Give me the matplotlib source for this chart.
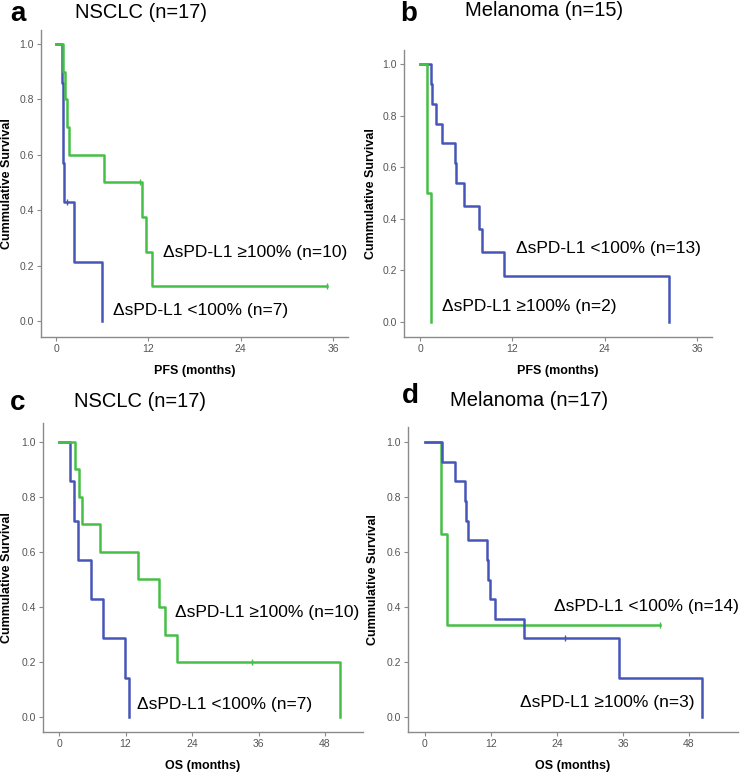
import matplotlib
matplotlib.use('Agg')
import matplotlib.pyplot as plt

plt.rcParams['font.family'] = ['Liberation Sans', 'DejaVu Sans']

BLUE = '#4656b8'
GREEN = '#46bf46'
AXIS_GRAY = '#8a8a8a'

# ---- data: Kaplan-Meier step points (time in months, survival) ----
# panel a: NSCLC PFS
a_hi_t = [0, 0.95, 1.15, 1.4, 1.7, 6.3, 11.2, 11.7, 12.5, 35.2]
a_hi_s = [1.0, 0.9, 0.8, 0.7, 0.6, 0.5, 0.375, 0.25, 0.125, 0.125]
a_hi_cens_t = [10.9, 35.2]
a_hi_cens_s = [0.5, 0.125]
a_lo_t = [0, 0.75, 0.85, 0.9, 1.1, 2.3, 6.0]
a_lo_s = [1.0, 0.857, 0.714, 0.571, 0.429, 0.214, 0.0]
a_lo_cens_t = [1.4]
a_lo_cens_s = [0.429]

# panel b: melanoma PFS
b_hi_t = [0, 0.95, 1.43]
b_hi_s = [1.0, 0.5, 0.0]
b_lo_t = [0, 1.43, 1.5, 2.1, 2.8, 4.6, 4.65, 5.7, 7.66, 8.05, 10.9, 32.3]
b_lo_s = [1.0, 0.923, 0.846, 0.769, 0.692, 0.615, 0.538, 0.45, 0.36, 0.27, 0.18, 0.0]

# panel c: NSCLC OS
c_hi_t = [0, 2.8, 3.55, 4.15, 7.35, 14.3, 18.0, 19.2, 21.3, 50.7]
c_hi_s = [1.0, 0.9, 0.8, 0.7, 0.6, 0.5, 0.4, 0.3, 0.2, 0.0]
c_hi_cens_t = [34.9]
c_hi_cens_s = [0.2]
c_lo_t = [0, 2.0, 2.65, 3.5, 5.7, 7.95, 11.9, 12.65]
c_lo_s = [1.0, 0.857, 0.714, 0.571, 0.429, 0.286, 0.143, 0.0]

# panel d: melanoma OS
d_hi_t = [0, 2.85, 4.05, 42.8]
d_hi_s = [1.0, 0.667, 0.333, 0.333]
d_hi_cens_t = [42.8]
d_hi_cens_s = [0.333]
d_lo_t = [0, 3.15, 5.5, 7.26, 7.45, 7.75, 11.26, 11.5, 11.9, 12.8, 18.0, 35.2, 50.4]
d_lo_s = [1.0, 0.929, 0.857, 0.786, 0.714, 0.643, 0.571, 0.5, 0.429, 0.357, 0.286, 0.143, 0.0]
d_lo_cens_t = [25.5]
d_lo_cens_s = [0.286]

W, H = 749, 777
fig = plt.figure(figsize=(W / 100, H / 100), dpi=100)


def px_axes(left, top, right, bottom):
    return fig.add_axes([left / W, 1 - bottom / H, (right - left) / W, (bottom - top) / H])


def style(ax, xlim, ylim, xticks, xlabel, ylab_x):
    ax.set_xlim(*xlim)
    ax.set_ylim(*ylim)
    ax.set_xticks(xticks)
    ax.set_yticks([0.0, 0.2, 0.4, 0.6, 0.8, 1.0])
    ax.set_yticklabels(['0.0', '0.2', '0.4', '0.6', '0.8', '1.0'])
    for s in ['top', 'right']:
        ax.spines[s].set_visible(False)
    for s in ['left', 'bottom']:
        ax.spines[s].set_color(AXIS_GRAY)
        ax.spines[s].set_linewidth(1.0)
    ax.tick_params(direction='out', length=3, width=0.8, color=AXIS_GRAY,
                   labelsize=7.5, labelcolor='#555555', pad=2)
    ax.set_xlabel(xlabel, fontsize=9, fontweight='bold', labelpad=8)
    ax.set_ylabel('Cummulative Survival', fontsize=9, fontweight='bold')
    ax.yaxis.set_label_coords(ylab_x, 0.5)


def km(ax, t, s, color, ct=None, cs=None):
    ax.step(t, s, where='post', color=color, lw=1.8, zorder=3)
    if ct:
        ax.plot(ct, cs, ls='none', marker='|', ms=5, mew=1.0, color=color, zorder=4)


# panel a
ax = px_axes(41, 30, 348, 337)
km(ax, a_lo_t, a_lo_s, BLUE, a_lo_cens_t, a_lo_cens_s)
km(ax, a_hi_t, a_hi_s, GREEN, a_hi_cens_t, a_hi_cens_s)
style(ax, (-1.95, 37.95), (-0.058, 1.05), [0, 12, 24, 36], 'PFS (months)', -0.092)

# panel b
ax = px_axes(404, 50, 712, 337)
km(ax, b_lo_t, b_lo_s, BLUE)
km(ax, b_hi_t, b_hi_s, GREEN)
style(ax, (-2.08, 37.95), (-0.058, 1.054), [0, 12, 24, 36], 'PFS (months)', -0.088)

# panel c
ax = px_axes(43, 423, 363, 732)
km(ax, c_lo_t, c_lo_s, BLUE)
km(ax, c_hi_t, c_hi_s, GREEN, c_hi_cens_t, c_hi_cens_s)
style(ax, (-2.89, 54.85), (-0.0545, 1.069), [0, 12, 24, 36, 48], 'OS (months)', -0.094)

# panel d
ax = px_axes(408, 427, 738, 732)
km(ax, d_hi_t, d_hi_s, GREEN, d_hi_cens_t, d_hi_cens_s)
km(ax, d_lo_t, d_lo_s, BLUE, d_lo_cens_t, d_lo_cens_s)
style(ax, (-3.09, 56.9), (-0.0545, 1.055), [0, 12, 24, 36, 48], 'OS (months)', -0.088)


def ftext(x, y, s, **kw):
    fig.text(x / W, 1 - y / H, s, va='center', **kw)


# panel letters and titles
ftext(10, 14, 'a', fontsize=20, fontweight='bold')
ftext(75, 12, 'NSCLC (n=17)', fontsize=14.5)
ftext(400, 14, 'b', fontsize=20, fontweight='bold')
ftext(465, 11, 'Melanoma (n=15)', fontsize=14.5)
ftext(10, 403, 'c', fontsize=20, fontweight='bold')
ftext(74, 401, 'NSCLC (n=17)', fontsize=14.5)
ftext(402, 396, 'd', fontsize=20, fontweight='bold')
ftext(450, 400, 'Melanoma (n=17)', fontsize=14.5)

# group annotations
ftext(163, 253, 'ΔsPD-L1 ≥100% (n=10)', fontsize=12.5)
ftext(113, 311, 'ΔsPD-L1 <100% (n=7)', fontsize=12.5)
ftext(516, 248, 'ΔsPD-L1 <100% (n=13)', fontsize=12.5)
ftext(442, 306, 'ΔsPD-L1 ≥100% (n=2)', fontsize=12.5)
ftext(175, 612, 'ΔsPD-L1 ≥100% (n=10)', fontsize=12.5)
ftext(137, 705, 'ΔsPD-L1 <100% (n=7)', fontsize=12.5)
ftext(554, 606, 'ΔsPD-L1 <100% (n=14)', fontsize=12.5)
ftext(520, 703, 'ΔsPD-L1 ≥100% (n=3)', fontsize=12.5)

fig.savefig('out.png', dpi=100)
